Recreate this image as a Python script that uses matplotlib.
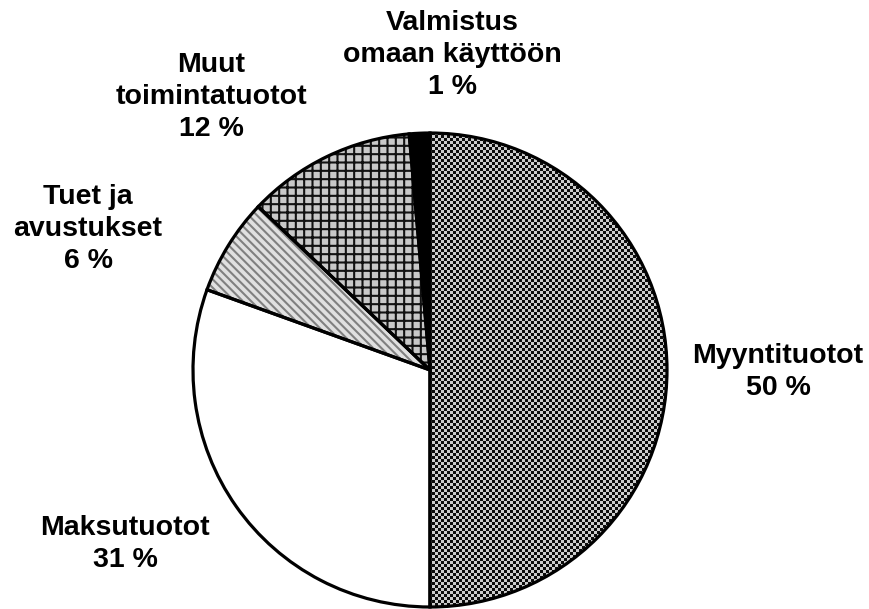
import matplotlib.pyplot as plt
import numpy as np

plt.rcParams['font.family'] = ['Liberation Sans', 'DejaVu Sans']
plt.rcParams['hatch.linewidth'] = 1.5

# Data
categories = ['Myyntituotot', 'Maksutuotot', 'Tuet ja\navustukset',
              'Muut\ntoimintatuotot', 'Valmistus\nomaan käyttöön']
shares = [50.0, 30.5, 6.6, 11.5, 1.4]
pct_labels = ['50 %', '31 %', '6 %', '12 %', '1 %']

# layout (pixel coords, y from bottom)
W, H = 869, 609
cx, cy, r = 430, 239, 237
label_pos = [(778, 237), (125, 65), (88, 380), (211, 512), (452, 554)]

fig = plt.figure(figsize=(W / 100, H / 100), dpi=100)
ax = fig.add_axes([0, 0, 1, 1])

wedges, _ = ax.pie(shares, startangle=90, counterclock=False,
                   center=(cx, cy), radius=r,
                   wedgeprops=dict(linewidth=0))

# Myyntituotot: checkerboard image clipped to the wedge
ny, nx = H // 3 + 1, W // 3 + 1
yy, xx = np.mgrid[0:ny, 0:nx]
checker = np.where((xx + yy) % 2 == 0, 0.05, 0.8)
wedges[0].set_facecolor('none')
im = ax.imshow(checker, cmap='gray', vmin=0, vmax=1, extent=(0, nx * 3, 0, ny * 3),
               origin='lower', interpolation='nearest', zorder=0.5)
im.set_clip_path(wedges[0])

# Maksutuotot: white
wedges[1].set_facecolor('white')
# Tuet ja avustukset: grey diagonal lines
wedges[2].set_facecolor('#e0e0e0')
wedges[2].set_edgecolor('#808080')
wedges[2].set_hatch('\\\\\\\\')
# Muut toimintatuotot: plaid
wedges[3].set_facecolor('#c8c8c8')
wedges[3].set_edgecolor('#111111')
wedges[3].set_hatch('++')
# Valmistus omaan käyttöön: black
wedges[4].set_facecolor('black')

# outlines
ax.pie(shares, startangle=90, counterclock=False, center=(cx, cy), radius=r,
       wedgeprops=dict(fill=False, edgecolor='black', linewidth=2.3))

for cat, pct, (x, y) in zip(categories, pct_labels, label_pos):
    ax.text(x, y, cat + '\n' + pct, ha='center', va='center',
            fontsize=20.5, fontweight='bold', linespacing=1.3,
            multialignment='center')

ax.set_xlim(0, W)
ax.set_ylim(0, H)
ax.set_aspect('equal')
ax.axis('off')

fig.savefig('out.png', dpi=100, facecolor='white')
